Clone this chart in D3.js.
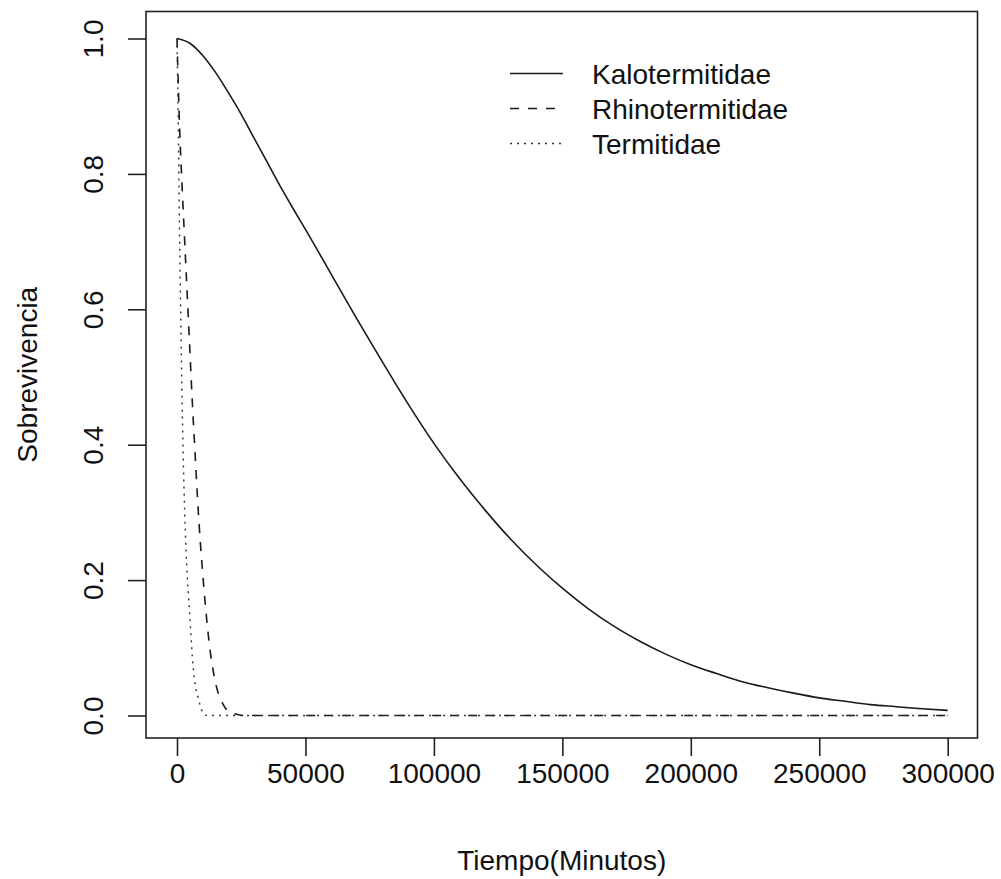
<!DOCTYPE html>
<html>
<head>
<meta charset="utf-8">
<script src="https://cdn.jsdelivr.net/npm/d3@7"></script>
<style>
  html, body { margin: 0; padding: 0; background: #fff; }
  svg { display: block; }
  text { font-family: "Liberation Sans", Arial, Helvetica, sans-serif; fill: #111; }
</style>
</head>
<body>
<svg id="chart" width="1001" height="879"></svg>
<script>
// ---- Data ----
const seriesNames = ["Kalotermitidae", "Rhinotermitidae", "Termitidae"];

const kaloTime = [0, 5000, 10000, 15000, 20000, 25000, 30000, 35000, 40000, 45000, 50000,
  60000, 70000, 80000, 90000, 100000,
  110000, 120000, 130000, 140000, 150000, 160000, 170000, 180000, 190000, 200000,
  210000, 220000, 230000, 240000, 250000, 260000, 270000, 280000, 290000, 300000];
const kaloSurv = [1.0, 0.993, 0.975, 0.95, 0.92, 0.888, 0.853, 0.818, 0.783, 0.75, 0.718,
  0.652, 0.586, 0.522, 0.46, 0.402,
  0.35, 0.303, 0.26, 0.222, 0.188, 0.158, 0.132, 0.11, 0.091, 0.075,
  0.062, 0.05, 0.041, 0.033, 0.026, 0.021, 0.016, 0.013, 0.01, 0.0075];

const rhinoTime = [0, 1000, 2000, 3000, 4000, 5000, 6000, 7000, 8000, 9000, 10000,
  11000, 12000, 13000, 14000, 15000, 16000, 17000, 18000, 19000, 20000, 22000, 24000, 26000, 300000];
const rhinoSurv = [1.0, 0.87, 0.78, 0.70, 0.62, 0.54, 0.46, 0.39, 0.32, 0.26, 0.21,
  0.165, 0.125, 0.093, 0.068, 0.048, 0.034, 0.024, 0.016, 0.010, 0.006, 0.003, 0.001, 0.0, 0.0];

const termTime = [0, 500, 1000, 1500, 2000, 2500, 3000, 3500, 4000, 4500, 5000, 5500, 6000,
  6500, 7000, 7500, 8000, 8500, 9000, 9500, 10000, 10500, 11000, 12000, 300000];
const termSurv = [1.0, 0.87, 0.71, 0.58, 0.46, 0.37, 0.30, 0.245, 0.205, 0.175, 0.145, 0.115, 0.085,
  0.063, 0.048, 0.037, 0.030, 0.022, 0.015, 0.009, 0.005, 0.002, 0.0005, 0.0, 0.0];

const xTicks = [0, 50000, 100000, 150000, 200000, 250000, 300000];
const yTicks = [0.0, 0.2, 0.4, 0.6, 0.8, 1.0];

const xTitle = "Tiempo(Minutos)";
const yTitle = "Sobrevivencia";

// ---- Layout ----
const svg = d3.select("#chart");
const box = { left: 146, right: 977.5, top: 11.5, bottom: 738 };
const x = d3.scaleLinear().domain([0, 300000]).range([177, 947.7]);
const y = d3.scaleLinear().domain([0, 1]).range([715.5, 38.5]);
const fontSize = 28;

// plot box
svg.append("rect")
  .attr("x", box.left).attr("y", box.top)
  .attr("width", box.right - box.left).attr("height", box.bottom - box.top)
  .attr("fill", "none").attr("stroke", "#222").attr("stroke-width", 1.6);

// x axis
const gx = svg.append("g")
  .attr("transform", `translate(0,${box.bottom})`)
  .call(d3.axisBottom(x).tickValues(xTicks).tickSize(18).tickPadding(7).tickFormat(d3.format("d")));
gx.select(".domain").remove();
gx.selectAll(".tick line").attr("stroke", "#222").attr("stroke-width", 1.6);
gx.selectAll(".tick text").attr("font-size", fontSize).attr("font-family", null).attr("fill", "#111");

// y axis
const gy = svg.append("g")
  .attr("transform", `translate(${box.left},0)`)
  .call(d3.axisLeft(y).tickValues(yTicks).tickSize(18).tickFormat(d3.format(".1f")));
gy.select(".domain").remove();
gy.selectAll(".tick line").attr("stroke", "#222").attr("stroke-width", 1.6);
gy.selectAll(".tick text")
  .attr("font-size", fontSize).attr("font-family", null).attr("fill", "#111")
  .attr("x", null).attr("dy", null)
  .attr("text-anchor", "middle")
  .attr("transform", `translate(${103 - box.left},0) rotate(-90)`);

// axis titles
svg.append("text")
  .attr("x", (box.left + box.right) / 2).attr("y", 870)
  .attr("text-anchor", "middle").attr("font-size", fontSize)
  .text(xTitle);
svg.append("text")
  .attr("transform", `translate(37,${(box.top + box.bottom) / 2}) rotate(-90)`)
  .attr("text-anchor", "middle").attr("font-size", fontSize)
  .text(yTitle);

// curves
const styles = [
  { dash: null, width: 1.6, color: "#1a1a1a" },
  { dash: "9,9", width: 1.6, color: "#1a1a1a" },
  { dash: "2,5", width: 1.4, color: "#333" }
];
const series = [
  { name: seriesNames[0], t: kaloTime, s: kaloSurv },
  { name: seriesNames[1], t: rhinoTime, s: rhinoSurv },
  { name: seriesNames[2], t: termTime, s: termSurv }
];
const line = d3.line().x(d => x(d[0])).y(d => y(d[1])).curve(d3.curveMonotoneX);
series.forEach((ser, i) => {
  const pts = ser.t.map((t, j) => [t, ser.s[j]]);
  svg.append("path")
    .datum(pts)
    .attr("d", line)
    .attr("fill", "none")
    .attr("stroke", styles[i].color)
    .attr("stroke-width", styles[i].width)
    .attr("stroke-dasharray", styles[i].dash);
});

// legend
const legY = [73.5, 108.5, 143.5];
series.forEach((ser, i) => {
  svg.append("line")
    .attr("x1", 510).attr("x2", 563)
    .attr("y1", legY[i]).attr("y2", legY[i])
    .attr("stroke", styles[i].color)
    .attr("stroke-width", styles[i].width)
    .attr("stroke-dasharray", styles[i].dash);
  svg.append("text")
    .attr("x", 592).attr("y", legY[i] + 10)
    .attr("font-size", fontSize)
    .text(ser.name);
});
</script>
</body>
</html>
